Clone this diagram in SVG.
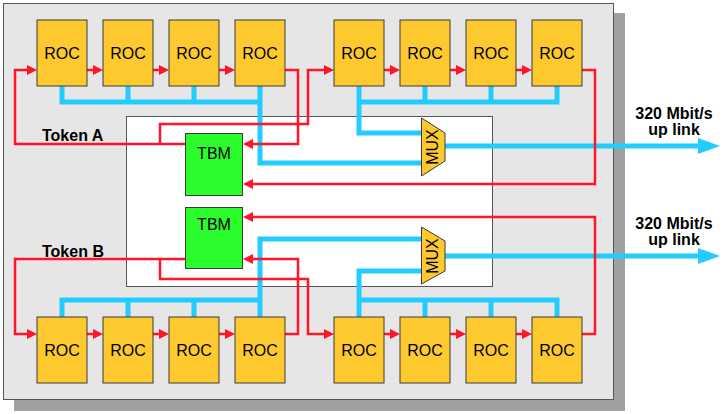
<svg xmlns="http://www.w3.org/2000/svg" width="724" height="414" viewBox="0 0 724 414">
<style>
.roc rect{fill:#fdc92f;stroke:#3a3a3a;stroke-width:1}
.tbm rect{fill:#2bfc2b;stroke:#3a3a3a;stroke-width:1}
.mux polygon{fill:#fdc92f;stroke:#3a3a3a;stroke-width:1}
text{font-family:"Liberation Sans",Arial,sans-serif;font-size:16px;fill:#000}
.lbl{font-weight:bold}
.c{text-anchor:middle}
.red{fill:none;stroke:#ff1428;stroke-width:2.5}
.blue{fill:none;stroke:#22ccff;stroke-width:5}
</style>
<defs>
<marker id="ar" viewBox="0 0 10 10" refX="6" refY="5" markerWidth="10" markerHeight="10" markerUnits="userSpaceOnUse" orient="auto">
<path d="M0,0 L10,5 L0,10 z" fill="#ff1428"/>
</marker>
</defs>
<g id="panel">
<rect x="14" y="13" width="611" height="398" fill="#a0a0a0"/>
<rect x="3.5" y="3.5" width="610" height="396" fill="#e6e6e6" stroke="#555" stroke-width="1"/>
<rect x="126.5" y="116.5" width="366" height="170" fill="#fff" stroke="#555" stroke-width="1"/>
</g>
<g id="connectors">
<g class="blue">
<path d="M62,86 V102 H260"/>
<path d="M128,86 V102"/>
<path d="M194,86 V102"/>
<path d="M260,86 V163 H421"/>
<path d="M359,86 V133 H421"/>
<path d="M359,102 H557 V86"/>
<path d="M425,86 V102"/>
<path d="M491,86 V102"/>
<path d="M445,146 H699"/>
<path d="M62,317 V300 H260"/>
<path d="M128,317 V300"/>
<path d="M194,317 V300"/>
<path d="M260,317 V239 H421"/>
<path d="M359,317 V271 H421"/>
<path d="M359,300 H557 V317"/>
<path d="M425,317 V300"/>
<path d="M491,317 V300"/>
<path d="M445,256 H699"/>
</g>
<polygon points="698,138 720,146 698,154" fill="#22ccff"/>
<polygon points="698,248 720,256 698,264" fill="#22ccff"/>
<g class="red" marker-end="url(#ar)">
<path d="M87,70 H99"/>
<path d="M153,70 H165"/>
<path d="M219,70 H231"/>
<path d="M384,70 H396"/>
<path d="M450,70 H462"/>
<path d="M516,70 H528"/>
<path d="M87,334 H99"/>
<path d="M153,334 H165"/>
<path d="M219,334 H231"/>
<path d="M384,334 H396"/>
<path d="M450,334 H462"/>
<path d="M516,334 H528"/>
<path d="M186,144 H15 V70 H33"/>
<path d="M160,144 V124 H308 V70 H330"/>
<path d="M285,70 H298 V144 H247"/>
<path d="M582,70 H595 V184 H247"/>
<path d="M186,259 H15 V334 H33"/>
<path d="M160,259 V279 H308 V334 H330"/>
<path d="M285,334 H298 V259 H247"/>
<path d="M582,334 H595 V217 H247"/>
</g>
</g>
<g id="roc1" class="roc"><rect x="37" y="20" width="50" height="66"/><text class="c" x="62" y="59">ROC</text></g>
<g id="roc2" class="roc"><rect x="103" y="20" width="50" height="66"/><text class="c" x="128" y="59">ROC</text></g>
<g id="roc3" class="roc"><rect x="169" y="20" width="50" height="66"/><text class="c" x="194" y="59">ROC</text></g>
<g id="roc4" class="roc"><rect x="235" y="20" width="50" height="66"/><text class="c" x="260" y="59">ROC</text></g>
<g id="roc5" class="roc"><rect x="334" y="20" width="50" height="66"/><text class="c" x="359" y="59">ROC</text></g>
<g id="roc6" class="roc"><rect x="400" y="20" width="50" height="66"/><text class="c" x="425" y="59">ROC</text></g>
<g id="roc7" class="roc"><rect x="466" y="20" width="50" height="66"/><text class="c" x="491" y="59">ROC</text></g>
<g id="roc8" class="roc"><rect x="532" y="20" width="50" height="66"/><text class="c" x="557" y="59">ROC</text></g>
<g id="roc9" class="roc"><rect x="37" y="317" width="50" height="66"/><text class="c" x="62" y="356">ROC</text></g>
<g id="roc10" class="roc"><rect x="103" y="317" width="50" height="66"/><text class="c" x="128" y="356">ROC</text></g>
<g id="roc11" class="roc"><rect x="169" y="317" width="50" height="66"/><text class="c" x="194" y="356">ROC</text></g>
<g id="roc12" class="roc"><rect x="235" y="317" width="50" height="66"/><text class="c" x="260" y="356">ROC</text></g>
<g id="roc13" class="roc"><rect x="334" y="317" width="50" height="66"/><text class="c" x="359" y="356">ROC</text></g>
<g id="roc14" class="roc"><rect x="400" y="317" width="50" height="66"/><text class="c" x="425" y="356">ROC</text></g>
<g id="roc15" class="roc"><rect x="466" y="317" width="50" height="66"/><text class="c" x="491" y="356">ROC</text></g>
<g id="roc16" class="roc"><rect x="532" y="317" width="50" height="66"/><text class="c" x="557" y="356">ROC</text></g>
<g id="tbmA" class="tbm"><rect x="185.5" y="133.5" width="57" height="62"/><text class="c" x="214" y="159">TBM</text></g>
<g id="tbmB" class="tbm"><rect x="185.5" y="207.5" width="57" height="61"/><text class="c" x="214" y="230">TBM</text></g>
<g id="muxA" class="mux"><polygon points="421.5,118 445,133 445,161 421.5,176"/><text class="c" transform="translate(437.5,147) rotate(-90)">MUX</text></g>
<g id="muxB" class="mux"><polygon points="421.5,227 445,241 445,271 421.5,284"/><text class="c" transform="translate(437.5,256) rotate(-90)">MUX</text></g>
<g id="labels">
<text class="lbl" x="42" y="141">Token A</text>
<text class="lbl" x="42" y="257">Token B</text>
<text class="lbl c" x="674" y="119">320 Mbit/s</text>
<text class="lbl c" x="674" y="135">up link</text>
<text class="lbl c" x="674" y="229">320 Mbit/s</text>
<text class="lbl c" x="674" y="245">up link</text>
</g>
</svg>
